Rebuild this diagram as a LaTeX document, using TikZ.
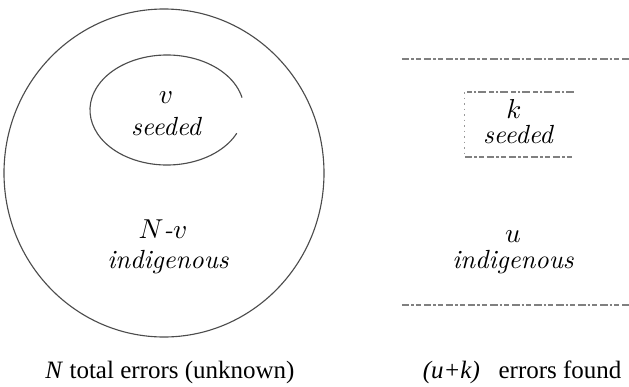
\documentclass[tikz,border=0pt]{standalone}
\usepackage{fontspec}
\newfontfamily\capfont{Liberation Serif}
\begin{document}
\begin{tikzpicture}[x=0.4pt, y=-0.4pt,
  outline/.style={draw=black!70, line width=0.45pt},
  brokenline/.style={draw=black!50, line width=0.45pt, dash pattern=on 3pt off 0.8pt on 1pt off 0.8pt on 2pt off 1.2pt},
  faintside/.style={draw=black!40, line width=0.4pt, dash pattern=on 0.6pt off 1.6pt},
  lbl/.style={font=\fontsize{10.5}{12.5}\selectfont\itshape, align=center, inner sep=0pt, anchor=base},
  caption/.style={font=\capfont\fontsize{10}{12}\selectfont, inner sep=0pt, anchor=base}]
  \useasboundingbox (0,0) rectangle (629,387);

  % population of all errors
  \draw[outline] (164,173) ellipse [x radius=160, y radius=164];
  % seeded errors (open on the right)
  \draw[outline] (167,110) ++(25:77 and 55) arc [start angle=25, end angle=347, x radius=77, y radius=55];

  \node[lbl] (vtop) at (166,103) {$v$};
  \node[lbl] (vseed) at (166,135) {seeded};
  \node[lbl] (nv) at (163,238) {$N$-$v$};
  \node[lbl] (nvind) at (168,268) {indigenous};

  % errors found in testing
  \coordinate (tl) at (402,59);
  \coordinate (tr) at (629,59);
  \coordinate (bl) at (402,305);
  \coordinate (br) at (629,305);
  \draw[brokenline] (tl) -- (tr);
  \draw[brokenline] (bl) -- (br);

  % seeded errors found
  \coordinate (ka) at (574,92);
  \coordinate (kb) at (465,92);
  \coordinate (kc) at (465,157);
  \coordinate (kd) at (574,157);
  \draw[brokenline] (ka) -- (kb);
  \draw[faintside] (kb) -- (kc);
  \draw[brokenline] (kc) -- (kd);

  \node[lbl] (ktop) at (514,118) {$k$};
  \node[lbl] (kseed) at (518,143) {seeded};
  \node[lbl] (utop) at (513,242) {$u$};
  \node[lbl] (uind) at (513,268) {indigenous};

  \node[caption, anchor=base west] (capN) at (45,378) {\textit{N} total errors (unknown)};
  \node[caption, anchor=base east] (capF) at (622,378) {\textit{(u+k)}\hspace{5pt} errors found};
\end{tikzpicture}
\end{document}
